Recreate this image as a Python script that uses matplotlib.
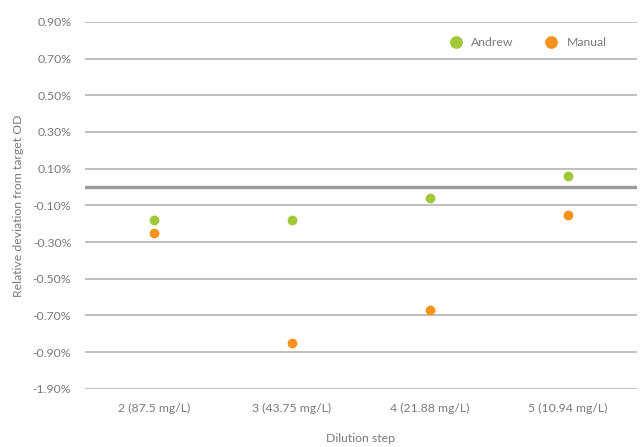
import matplotlib.pyplot as plt

plt.rcParams["font.family"] = ["Lato", "DejaVu Sans"]

steps = ["2 (87.5 mg/L)", "3 (43.75 mg/L)", "4 (21.88 mg/L)", "5 (10.94 mg/L)"]
andrew = [-0.18, -0.18, -0.06, 0.06]
manual = [-0.25, -0.85, -0.67, -0.15]
ytick_vals = [0.9, 0.7, 0.5, 0.3, 0.1, -0.1, -0.3, -0.5, -0.7, -0.9, -1.1]
ytick_labels = ["0.90%", "0.70%", "0.50%", "0.30%", "0.10%", "-0.10%", "-0.30%",
                "-0.50%", "-0.70%", "-0.90%", "-1.90%"]

text_col = "#7a7a7a"
green = "#a2c83a"
orange = "#f7931d"

fig = plt.figure(figsize=(6.4, 4.47), dpi=100)
ax = fig.add_axes([0.133, 0.130, 0.862, 0.821])

x = list(range(len(steps)))
for v in ytick_vals:
    ax.axhline(v, color="#b4b4b4", lw=1.2, zorder=1)
ax.axhline(0, color="#9a9a9a", lw=2.4, zorder=1)

ax.scatter(x, andrew, s=50, color=green, label="Andrew", zorder=3, linewidths=0)
ax.scatter(x, manual, s=50, color=orange, label="Manual", zorder=3, linewidths=0)

ax.set_xlim(-0.5, 3.5)
ax.set_ylim(-1.1, 0.9)
ax.set_xticks(x)
ax.set_xticklabels(steps)
ax.set_yticks(ytick_vals)
ax.set_yticklabels(ytick_labels)
ax.tick_params(length=0, colors=text_col, labelsize=8.8)
ax.tick_params(axis="y", pad=10)
ax.tick_params(axis="x", pad=10)
for s in ax.spines.values():
    s.set_visible(False)

ax.set_xlabel("Dilution step", color=text_col, fontsize=8.8, labelpad=14)
ax.set_ylabel("Relative deviation from target OD", color=text_col, fontsize=8.8, labelpad=6)

leg = ax.legend(loc="upper right", ncol=2, frameon=False, fontsize=8.8,
                bbox_to_anchor=(0.965, 0.99), handletextpad=0.3, columnspacing=2.0,
                markerscale=1.3)
for t in leg.get_texts():
    t.set_color(text_col)

fig.savefig("out.png", dpi=100)
